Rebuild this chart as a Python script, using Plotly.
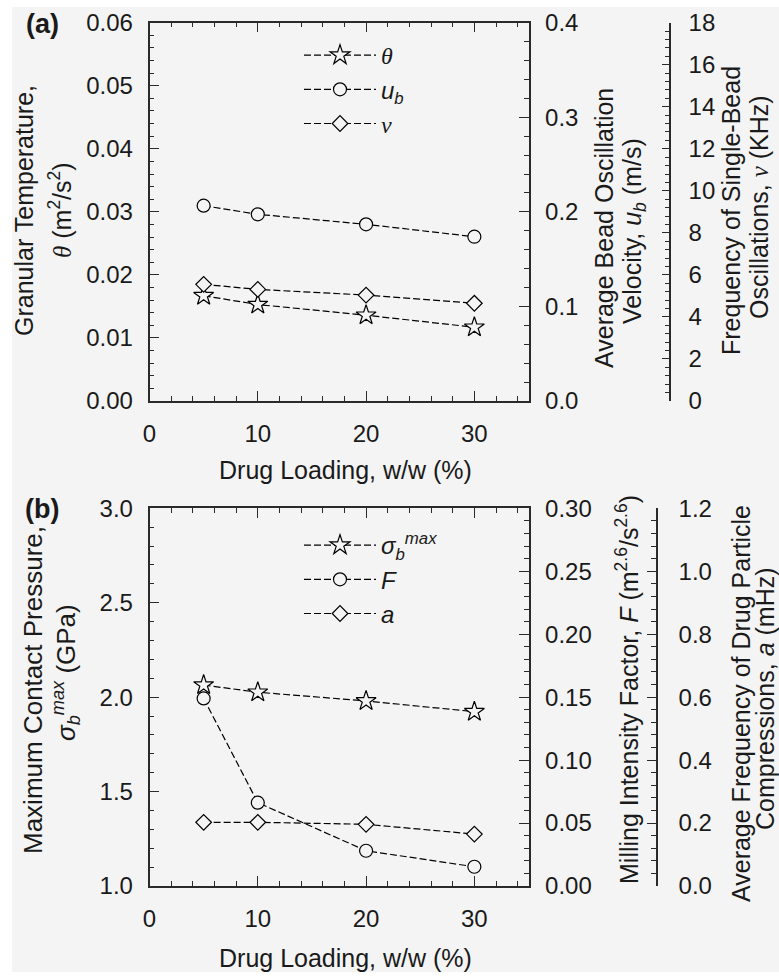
import plotly.graph_objects as go

# ---------------- data ----------------
drug_loading = [5, 10, 20, 30]
theta = [0.0167, 0.0153, 0.0136, 0.0117]          # m^2/s^2
u_b = [0.2065, 0.1974, 0.1868, 0.1737]            # m/s
nu = [5.55, 5.31, 5.04, 4.65]                      # KHz
sigma_b_max = [2.064, 2.026, 1.980, 1.923]         # GPa
F_mill = [0.149, 0.0662, 0.0280, 0.0153]           # m^2.6/s^2.6
a_freq = [0.2024, 0.2024, 0.196, 0.165]            # mHz

x_ticks = [0, 10, 20, 30]

# ---------------- geometry helpers ----------------
W, H = 779, 977
BG = "#f4f4f4"
FONT = "Liberation Sans, Arial, Helvetica, sans-serif"
INK = "#1a1a1a"


def px(x):
    return x / W


def py(y):
    return 1 - y / H


xdom = [px(149.5), px(528.5)]
ya_dom = [py(401), py(22.7)]
yb_dom = [py(886), py(508.3)]

tickfont = dict(family=FONT, size=24, color=INK)
LINEC = "#2a2a2a"


def base_axis(**kw):
    d = dict(
        showline=True, linecolor=LINEC, linewidth=1.5,
        ticks="inside", ticklen=10, tickwidth=1.2, tickcolor=LINEC,
        showgrid=False, zeroline=False, tickfont=tickfont,
        automargin=False, fixedrange=True,
    )
    d.update(kw)
    return d


def minor(dt, ln=5):
    return dict(dtick=dt, ticklen=ln, ticks="inside", tickwidth=1.2, tickcolor=LINEC, showgrid=False)


fig = go.Figure()

line_style = dict(color="black", width=1.2, dash="7px,3px")


def mk(symbol, size):
    return dict(symbol=symbol, size=size, color=BG, line=dict(color="black", width=1.2))


# Panel (a)
fig.add_trace(go.Scatter(x=drug_loading, y=theta, mode="lines+markers", line=line_style,
                         marker=mk("star", 15), xaxis="x", yaxis="y", legend="legend",
                         name="<span style='font-family:Liberation Serif'><i>θ</i></span>"))
fig.add_trace(go.Scatter(x=drug_loading, y=u_b, mode="lines+markers", line=line_style,
                         marker=mk("circle", 13), xaxis="x", yaxis="y2", legend="legend",
                         name="<i>u</i><sub><i>b</i></sub>"))
fig.add_trace(go.Scatter(x=drug_loading, y=nu, mode="lines+markers", line=line_style,
                         marker=mk("diamond", 12), xaxis="x", yaxis="y3", legend="legend",
                         name="<span style='font-family:Liberation Serif'><i>ν</i></span>"))

# Panel (b)
fig.add_trace(go.Scatter(x=drug_loading, y=sigma_b_max, mode="lines+markers", line=line_style,
                         marker=mk("star", 15), xaxis="x2", yaxis="y4", legend="legend2",
                         name="<i>σ</i><sub><i>b</i></sub><sup><i>max</i></sup>"))
fig.add_trace(go.Scatter(x=drug_loading, y=F_mill, mode="lines+markers", line=line_style,
                         marker=mk("circle", 13), xaxis="x2", yaxis="y5", legend="legend2",
                         name="<i>F</i>"))
fig.add_trace(go.Scatter(x=drug_loading, y=a_freq, mode="lines+markers", line=line_style,
                         marker=mk("diamond", 12), xaxis="x2", yaxis="y6", legend="legend2",
                         name="<i>a</i>"))

xcommon = dict(range=[0, 35], tickvals=x_ticks, minor=minor(2), mirror="ticks", ticklabelstandoff=10)

fig.update_layout(
    width=W, height=H,
    margin=dict(l=0, r=0, t=0, b=0),
    paper_bgcolor="white", plot_bgcolor=BG,
    font=dict(family=FONT, color=INK),
    xaxis=base_axis(domain=xdom, anchor="y", **xcommon),
    yaxis=base_axis(domain=ya_dom, anchor="x", range=[0, 0.06], dtick=0.01, tick0=0,
                    tickformat=".2f", minor=minor(0.002), side="left", ticklabelstandoff=10),
    yaxis2=base_axis(overlaying="y", anchor="x", side="right", range=[0, 0.4], dtick=0.1,
                     tick0=0, tickformat=".1f", minor=minor(0.02), ticklabelstandoff=10),
    yaxis3=base_axis(overlaying="y", anchor="free", position=px(670), side="right",
                     range=[0, 18], dtick=2, tick0=0, ticklen=7, minor=minor(0.4, 4),
                     ticklabelstandoff=13),
    xaxis2=base_axis(domain=xdom, anchor="y4", **xcommon),
    yaxis4=base_axis(domain=yb_dom, anchor="x2", range=[1, 3], dtick=0.5, tick0=1,
                     tickformat=".1f", minor=minor(0.1), side="left", ticklabelstandoff=10),
    yaxis5=base_axis(overlaying="y4", anchor="x2", side="right", range=[0, 0.3], dtick=0.05,
                     tick0=0, tickformat=".2f", minor=minor(0.01), ticklabelstandoff=10),
    yaxis6=base_axis(overlaying="y4", anchor="free", position=px(657), side="right",
                     range=[0, 1.2], dtick=0.2, tick0=0, tickformat=".1f", ticklen=9,
                     minor=minor(0.04, 5), ticklabelstandoff=16),
    legend=dict(x=px(299), y=py(33), xanchor="left", yanchor="top",
                bgcolor="rgba(0,0,0,0)", font=dict(family=FONT, size=24, color=INK),
                itemwidth=72, tracegroupgap=0),
    legend2=dict(x=px(299), y=py(523), xanchor="left", yanchor="top",
                 bgcolor="rgba(0,0,0,0)", font=dict(family=FONT, size=24, color=INK),
                 itemwidth=72, tracegroupgap=0),
    showlegend=True,
    shapes=[dict(type="rect", xref="paper", yref="paper", x0=px(12), x1=1.0,
                 y0=py(972), y1=py(7), fillcolor=BG, line=dict(width=0), layer="below")],
)

ann = []


def add_text(text, x, y, size=25, angle=0, bold=False, family=FONT):
    t = f"<b>{text}</b>" if bold else text
    ann.append(dict(text=t, x=px(x), y=py(y), xref="paper", yref="paper",
                    showarrow=False, textangle=angle, xanchor="center", yanchor="middle",
                    font=dict(family=family, size=size, color=INK)))


# panel labels
add_text("(a)", 42, 24, size=27, bold=True)
add_text("(b)", 42, 509, size=27, bold=True)

# x titles
add_text("Drug Loading, w/w (%)", 345, 470)
add_text("Drug Loading, w/w (%)", 345, 958)

# panel (a) y titles
add_text("Granular Temperature,", 24, 211, angle=-90)
add_text("<span style='font-family:Liberation Serif'><i>θ</i></span> (m<sup>2</sup>/s<sup>2</sup>)",
         60, 210, angle=-90)
add_text("Average Bead Oscillation", 604, 228, angle=-90)
add_text("Velocity, <i>u</i><sub><i>b</i></sub> (m/s)", 634, 231, angle=-90)
add_text("Frequency of Single-Bead", 731, 211, angle=-90)
add_text("Oscillations, <span style='font-family:Liberation Serif'><i>ν</i></span> (KHz)",
         759, 207, angle=-90)

# panel (b) y titles
add_text("Maximum Contact Pressure,", 33, 690, size=26, angle=-90)
add_text("<i>σ</i><sub><i>b</i></sub><sup><i>max</i></sup> (GPa)", 66, 673, size=26, angle=-90)
add_text("Milling Intensity Factor, <i>F</i> (m<sup>2.6</sup>/s<sup>2.6</sup>)", 627, 690,
         angle=-90)
add_text("Average Frequency of Drug Particle", 741, 704, angle=-90)
add_text("Compressions, <i>a</i> (mHz)", 765, 699, angle=-90)

fig.update_layout(annotations=ann)

fig.write_html("out.html")
